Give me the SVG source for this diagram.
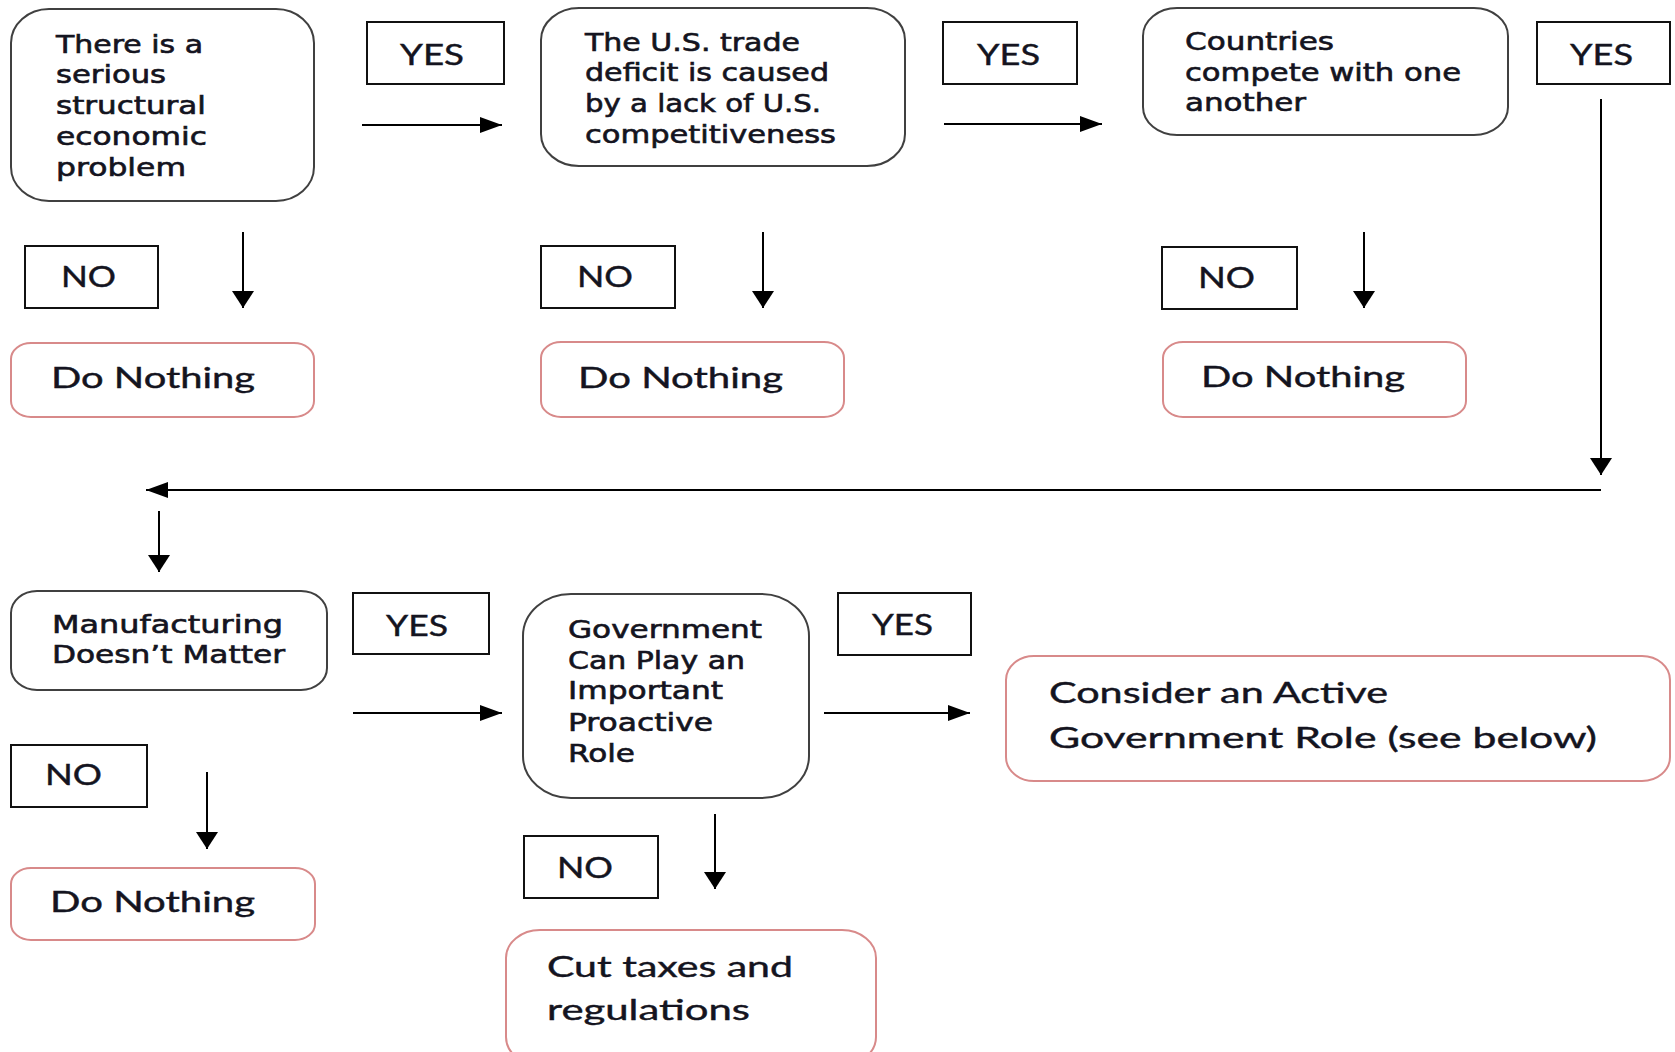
<svg xmlns="http://www.w3.org/2000/svg" width="1675" height="1052" viewBox="0 0 1675 1052">
<style>
.q{fill:#fff;stroke:#404040;stroke-width:2}
.d{fill:#fff;stroke:#d88a8a;stroke-width:2}
.b{fill:#fff;stroke:#111;stroke-width:2}
.t{font-family:"DejaVu Sans",Verdana,sans-serif;font-size:24px;fill:#141420;stroke:#141420;stroke-width:0.6}
.l{font-family:Lato,"Open Sans",sans-serif;font-size:28px;fill:#141420;stroke:#141420;stroke-width:0.4}
.c{stroke:#000;stroke-width:2;fill:none}
</style>
<defs>
<marker id="ah" markerUnits="userSpaceOnUse" markerWidth="24" markerHeight="18" refX="22" refY="8" orient="auto"><path d="M0,0 L22,8 L0,16 z" fill="#000"/></marker>
<marker id="av" markerUnits="userSpaceOnUse" markerWidth="19" markerHeight="24" refX="17" refY="11" orient="auto"><path d="M0,0 L17,11 L0,22 z" fill="#000"/></marker>
</defs>
<rect width="1675" height="1052" fill="#fff"/>
<g id="connectors">
<line class="c" x1="362" y1="125" x2="502" y2="125" marker-end="url(#ah)"/>
<line class="c" x1="944" y1="124" x2="1102" y2="124" marker-end="url(#ah)"/>
<line class="c" x1="353" y1="713" x2="502" y2="713" marker-end="url(#ah)"/>
<line class="c" x1="824" y1="713" x2="970" y2="713" marker-end="url(#ah)"/>
<line class="c" x1="1601" y1="490" x2="146" y2="490" marker-end="url(#ah)"/>
<line class="c" x1="243" y1="232" x2="243" y2="308" marker-end="url(#av)"/>
<line class="c" x1="763" y1="232" x2="763" y2="308" marker-end="url(#av)"/>
<line class="c" x1="1364" y1="232" x2="1364" y2="308" marker-end="url(#av)"/>
<line class="c" x1="1601" y1="99" x2="1601" y2="475" marker-end="url(#av)"/>
<line class="c" x1="159" y1="511" x2="159" y2="572" marker-end="url(#av)"/>
<line class="c" x1="207" y1="772" x2="207" y2="849" marker-end="url(#av)"/>
<line class="c" x1="715" y1="814" x2="715" y2="889" marker-end="url(#av)"/>
</g>
<g id="n1"><rect class="q" x="11" y="9" width="303" height="192" rx="38" ry="34"/>
<text class="t" x="56" y="53" textLength="147" lengthAdjust="spacingAndGlyphs">There is a</text>
<text class="t" x="56" y="83" textLength="110" lengthAdjust="spacingAndGlyphs">serious</text>
<text class="t" x="56" y="114" textLength="150" lengthAdjust="spacingAndGlyphs">structural</text>
<text class="t" x="56" y="145" textLength="151" lengthAdjust="spacingAndGlyphs">economic</text>
<text class="t" x="56" y="176" textLength="130" lengthAdjust="spacingAndGlyphs">problem</text></g>
<g id="n2"><rect class="q" x="541" y="8" width="364" height="158" rx="38" ry="32"/>
<text class="t" x="585" y="51" textLength="215" lengthAdjust="spacingAndGlyphs">The U.S. trade</text>
<text class="t" x="585" y="81" textLength="244" lengthAdjust="spacingAndGlyphs">deficit is caused</text>
<text class="t" x="585" y="112" textLength="236" lengthAdjust="spacingAndGlyphs">by a lack of U.S.</text>
<text class="t" x="585" y="143" textLength="251" lengthAdjust="spacingAndGlyphs">competitiveness</text></g>
<g id="n3"><rect class="q" x="1143" y="8" width="365" height="127" rx="34" ry="28"/>
<text class="t" x="1185" y="50" textLength="149" lengthAdjust="spacingAndGlyphs">Countries</text>
<text class="t" x="1185" y="81" textLength="276" lengthAdjust="spacingAndGlyphs">compete with one</text>
<text class="t" x="1185" y="111" textLength="121" lengthAdjust="spacingAndGlyphs">another</text></g>
<g id="n4"><rect class="q" x="11" y="591" width="316" height="99" rx="26" ry="22"/>
<text class="t" x="52" y="633" textLength="231" lengthAdjust="spacingAndGlyphs">Manufacturing</text>
<text class="t" x="52" y="663" textLength="233" lengthAdjust="spacingAndGlyphs">Doesn’t Matter</text></g>
<g id="n5"><rect class="q" x="523" y="594" width="286" height="204" rx="48" ry="42"/>
<text class="t" x="568" y="638" textLength="194" lengthAdjust="spacingAndGlyphs">Government</text>
<text class="t" x="568" y="669" textLength="177" lengthAdjust="spacingAndGlyphs">Can Play an</text>
<text class="t" x="568" y="699" textLength="155" lengthAdjust="spacingAndGlyphs">Important</text>
<text class="t" x="568" y="731" textLength="145" lengthAdjust="spacingAndGlyphs">Proactive</text>
<text class="t" x="568" y="762" textLength="67" lengthAdjust="spacingAndGlyphs">Role</text></g>
<g id="yes1"><rect class="b" x="367" y="22" width="137" height="62"/><text class="l" x="400" y="65" textLength="64" lengthAdjust="spacingAndGlyphs">YES</text></g>
<g id="yes2"><rect class="b" x="943" y="22" width="134" height="62"/><text class="l" x="977" y="65" textLength="63" lengthAdjust="spacingAndGlyphs">YES</text></g>
<g id="yes3"><rect class="b" x="1537" y="22" width="133" height="62"/><text class="l" x="1570" y="65" textLength="63" lengthAdjust="spacingAndGlyphs">YES</text></g>
<g id="yes4"><rect class="b" x="353" y="593" width="136" height="61"/><text class="l" x="386" y="636" textLength="62" lengthAdjust="spacingAndGlyphs">YES</text></g>
<g id="yes5"><rect class="b" x="838" y="593" width="133" height="62"/><text class="l" x="872" y="635" textLength="61" lengthAdjust="spacingAndGlyphs">YES</text></g>
<g id="no1"><rect class="b" x="25" y="246" width="133" height="62"/><text class="l" x="61" y="287" textLength="55" lengthAdjust="spacingAndGlyphs">NO</text></g>
<g id="no2"><rect class="b" x="541" y="246" width="134" height="62"/><text class="l" x="577" y="287" textLength="56" lengthAdjust="spacingAndGlyphs">NO</text></g>
<g id="no3"><rect class="b" x="1162" y="247" width="135" height="62"/><text class="l" x="1198" y="288" textLength="57" lengthAdjust="spacingAndGlyphs">NO</text></g>
<g id="no4"><rect class="b" x="11" y="745" width="136" height="62"/><text class="l" x="45" y="785" textLength="57" lengthAdjust="spacingAndGlyphs">NO</text></g>
<g id="no5"><rect class="b" x="524" y="836" width="134" height="62"/><text class="l" x="557" y="878" textLength="56" lengthAdjust="spacingAndGlyphs">NO</text></g>
<g id="do1"><rect class="d" x="11" y="343" width="303" height="74" rx="20" ry="16"/><text class="l" x="51" y="388" textLength="204" lengthAdjust="spacingAndGlyphs">Do Nothing</text></g>
<g id="do2"><rect class="d" x="541" y="342" width="303" height="75" rx="20" ry="16"/><text class="l" x="578" y="388" textLength="205" lengthAdjust="spacingAndGlyphs">Do Nothing</text></g>
<g id="do3"><rect class="d" x="1163" y="342" width="303" height="75" rx="20" ry="16"/><text class="l" x="1201" y="387" textLength="204" lengthAdjust="spacingAndGlyphs">Do Nothing</text></g>
<g id="do4"><rect class="d" x="11" y="868" width="304" height="72" rx="20" ry="16"/><text class="l" x="50" y="912" textLength="205" lengthAdjust="spacingAndGlyphs">Do Nothing</text></g>
<g id="consider"><rect class="d" x="1006" y="656" width="664" height="125" rx="28" ry="24"/>
<text class="l" x="1049" y="703" textLength="339" lengthAdjust="spacingAndGlyphs">Consider an Active</text>
<text class="l" x="1049" y="748" textLength="548" lengthAdjust="spacingAndGlyphs">Government Role (see below)</text></g>
<g id="cut"><rect class="d" x="506" y="930" width="370" height="135" rx="34" ry="28"/>
<text class="l" x="547" y="977" textLength="246" lengthAdjust="spacingAndGlyphs">Cut taxes and</text>
<text class="l" x="547" y="1020" textLength="203" lengthAdjust="spacingAndGlyphs">regulations</text></g>
</svg>
